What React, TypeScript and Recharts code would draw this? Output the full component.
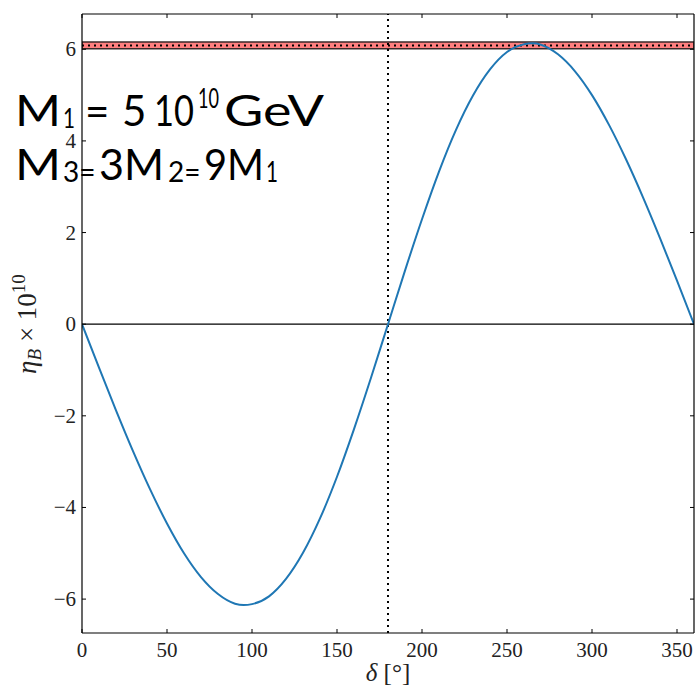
import React from 'react';
import { LineChart, Line, XAxis, YAxis, ReferenceLine, ReferenceArea } from 'recharts';

// delta in degrees
const deltaDeg = [0, 10, 20, 30, 40, 50, 60, 70, 80, 90, 95, 100, 110, 120, 130, 140, 150, 160, 170, 180,
  190, 200, 210, 220, 230, 240, 250, 260, 265, 270, 280, 290, 300, 310, 320, 330, 340, 350, 360];
// eta_B x 10^10
const etaB = [0, -0.95, -1.88, -2.77, -3.6, -4.35, -5.0, -5.52, -5.89, -6.1, -6.13, -6.11, -5.94, -5.56, -4.99, -4.24, -3.33, -2.29, -1.17, 0,
  1.17, 2.29, 3.33, 4.24, 4.99, 5.56, 5.94, 6.11, 6.13, 6.1, 5.89, 5.52, 5.0, 4.35, 3.6, 2.77, 1.88, 0.95, 0];

const xTicks = [0, 50, 100, 150, 200, 250, 300, 350];
const yTicks = [-6, -4, -2, 0, 2, 4, 6];
const xDomain = [0, 360];
const yDomain = [-6.74, 6.77];

// observed band
const bandLow = 6.01;
const bandHigh = 6.16;
const bandCentral = 6.085;
const deltaMark = 180;

const data = deltaDeg.map((d, i) => ({ delta: d, eta: etaB[i] }));

const tickFont = '"Liberation Serif", "DejaVu Serif", serif';
const annFont = "Lato, 'Open Sans', sans-serif";
const fmt = (v: number) => (v < 0 ? '\u2212' + Math.abs(v) : String(v));

const BottomTick = (p: any) => (
  <text x={p.x} y={p.y} dy={24} textAnchor="middle" fontFamily={tickFont} fontSize={21} fill="#222">
    {fmt(p.payload.value)}
  </text>
);
const LeftTick = (p: any) => (
  <text x={p.x - 6} y={p.y} dy={7} textAnchor="end" fontFamily={tickFont} fontSize={21} fill="#222">
    {fmt(p.payload.value)}
  </text>
);
const NoTick = () => <g />;

// annotation pieces: [text, x, baseline, width (0 = natural), fontSize]
const annPieces: [string, number, number, number, number][] = [
  ['M', 15, 126, 46, 42],
  ['1', 63, 128, 12, 26],
  ['=', 85, 126, 0, 42],
  ['5', 122, 126, 0, 42],
  ['10', 154, 126, 40, 42],
  ['10', 198, 108, 21, 26],
  ['GeV', 224, 126, 100, 42],
  ['M', 15, 180, 46, 42],
  ['3=', 63, 182, 0, 28],
  ['3M', 99, 180, 65, 42],
  ['2=', 168, 182, 0, 28],
  ['9M', 204, 180, 60, 42],
  ['1', 266, 182, 12, 28],
];

export default function App() {
  return (
    <div style={{ position: 'absolute', left: 0, top: 0, width: 695, height: 688, background: '#fff' }}>
      <LineChart width={695} height={688} data={data} margin={{ top: 0, right: 0, bottom: 0, left: 0 }}>
        <XAxis
          dataKey="delta"
          type="number"
          domain={xDomain}
          ticks={xTicks}
          allowDataOverflow
          height={55}
          tickSize={-4}
          tickMargin={4}
          tick={BottomTick}
          axisLine={{ stroke: '#000', strokeWidth: 1.2 }}
          tickLine={{ stroke: '#000', strokeWidth: 1 }}
        />
        <XAxis
          xAxisId="top"
          orientation="top"
          dataKey="delta"
          type="number"
          domain={xDomain}
          ticks={xTicks}
          allowDataOverflow
          height={14}
          tickSize={-4}
          tickMargin={4}
          tick={NoTick}
          axisLine={{ stroke: '#000', strokeWidth: 1.2 }}
          tickLine={{ stroke: '#000', strokeWidth: 1 }}
        />
        <YAxis
          type="number"
          domain={yDomain}
          ticks={yTicks}
          allowDataOverflow
          width={82}
          tickSize={-4}
          tickMargin={4}
          tick={LeftTick}
          axisLine={{ stroke: '#000', strokeWidth: 1.2 }}
          tickLine={{ stroke: '#000', strokeWidth: 1 }}
        />
        <YAxis
          yAxisId="right"
          orientation="right"
          type="number"
          domain={yDomain}
          ticks={yTicks}
          allowDataOverflow
          width={1}
          tickSize={-4}
          tickMargin={4}
          tick={NoTick}
          axisLine={{ stroke: '#000', strokeWidth: 1.2 }}
          tickLine={{ stroke: '#000', strokeWidth: 1 }}
        />
        <ReferenceArea
          x1={xDomain[0]}
          x2={xDomain[1]}
          y1={bandLow}
          y2={bandHigh}
          fill="#ff7f7f"
          fillOpacity={1}
          stroke="#3a2a2a"
          strokeWidth={1.5}
          ifOverflow="hidden"
        />
        <ReferenceLine y={bandCentral} stroke="#000" strokeWidth={2} strokeDasharray="2 4" />
        <ReferenceLine y={0} stroke="#000" strokeWidth={1.2} />
        <ReferenceLine x={deltaMark} stroke="#000" strokeWidth={2} strokeDasharray="2 4" />
        <Line
          type="monotone"
          dataKey="eta"
          stroke="#1f77b4"
          strokeWidth={2}
          dot={false}
          isAnimationActive={false}
        />
      </LineChart>
      <svg
        width={695}
        height={688}
        style={{ position: 'absolute', left: 0, top: 0, pointerEvents: 'none' }}
      >
        {annPieces.map(([t, x, y, w, fs], i) => (
          <text
            key={i}
            x={x}
            y={y}
            fontSize={fs}
            fontFamily={annFont}
            fill="#000"
            {...(w > 0 ? { textLength: w, lengthAdjust: 'spacingAndGlyphs' } : {})}
          >
            {t}
          </text>
        ))}
        <text
          transform="translate(36,324) rotate(-90)"
          textAnchor="middle"
          fontFamily={tickFont}
          fontSize={27}
          fill="#222"
        >
          <tspan fontStyle="italic">η</tspan>
          <tspan fontStyle="italic" fontSize={19} dy={5}>B</tspan>
          <tspan dy={-5}> × 10</tspan>
          <tspan fontSize={19} dy={-11}>10</tspan>
        </text>
        <text x={388} y={681} textAnchor="middle" fontFamily={tickFont} fontSize={25} fill="#222">
          <tspan fontStyle="italic">δ</tspan> [°]
        </text>
      </svg>
    </div>
  );
}
